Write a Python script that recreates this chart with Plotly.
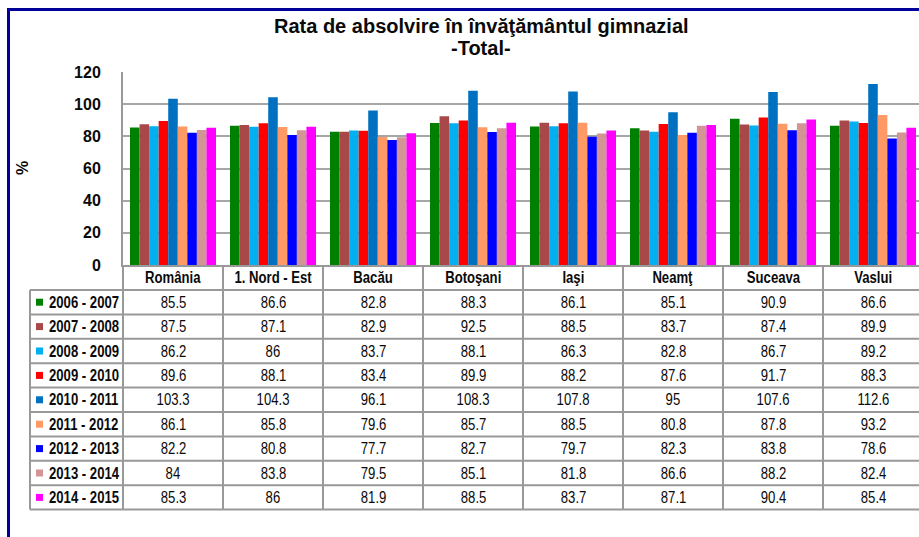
import plotly.graph_objects as go

# Regions (columns of the data table / bar groups)
regions = ["România", "1. Nord - Est", "Bacău", "Botoşani", "Iaşi", "Neamţ", "Suceava", "Vaslui"]

# School years (series)
years = ["2006 - 2007", "2007 - 2008", "2008 - 2009", "2009 - 2010", "2010 - 2011",
         "2011 - 2012", "2012 - 2013", "2013 - 2014", "2014 - 2015"]

# Completion rate (%) per school year, one value per region
v_2006_2007 = [85.5, 86.6, 82.8, 88.3, 86.1, 85.1, 90.9, 86.6]
v_2007_2008 = [87.5, 87.1, 82.9, 92.5, 88.5, 83.7, 87.4, 89.9]
v_2008_2009 = [86.2, 86, 83.7, 88.1, 86.3, 82.8, 86.7, 89.2]
v_2009_2010 = [89.6, 88.1, 83.4, 89.9, 88.2, 87.6, 91.7, 88.3]
v_2010_2011 = [103.3, 104.3, 96.1, 108.3, 107.8, 95, 107.6, 112.6]
v_2011_2012 = [86.1, 85.8, 79.6, 85.7, 88.5, 80.8, 87.8, 93.2]
v_2012_2013 = [82.2, 80.8, 77.7, 82.7, 79.7, 82.3, 83.8, 78.6]
v_2013_2014 = [84, 83.8, 79.5, 85.1, 81.8, 86.6, 88.2, 82.4]
v_2014_2015 = [85.3, 86, 81.9, 88.5, 83.7, 87.1, 90.4, 85.4]

series_values = [v_2006_2007, v_2007_2008, v_2008_2009, v_2009_2010, v_2010_2011,
                 v_2011_2012, v_2012_2013, v_2013_2014, v_2014_2015]

colors = ["#008000", "#A84848", "#00B0F0", "#FF0000", "#0070C0",
          "#FF9966", "#0000FF", "#D39494", "#FF00FF"]

y_ticks = [0, 20, 40, 60, 80, 100, 120]

# Page geometry (pixels)
W, H = 919, 537
PL, PR, PT, PB = 123, 919, 72, 265
COL_W = 100           # width of one region column
ROW_TOP = 290         # first data row of the table
ROW_H = 24.4
TABLE_L = 30
GRID = "#999999"
FONT = "Liberation Sans, Arial, sans-serif"
# Table text uses the same face, horizontally condensed after rendering
NARROW = "Liberation Sans, Arial Narrow, sans-serif"
NARROW_SCALE = 0.82
INK = "#0a0a0a"


def px(x):
    return (x - PL) / (PR - PL)


def py(y):
    return (PB - y) / (PB - PT)


fig = go.Figure()
for name, vals, col in zip(years, series_values, colors):
    fig.add_trace(go.Bar(
        name=name, x=regions, y=vals,
        marker=dict(color=col, line=dict(width=0)),
        showlegend=False, hoverinfo="x+y+name",
    ))

shapes = []
annotations = []

# Outer dark-blue frame (left and top edges)
shapes.append(dict(type="line", xref="paper", yref="paper",
                   x0=px(8.5), x1=px(8.5), y0=py(H + 5), y1=py(9.5),
                   line=dict(color="#000099", width=3)))
shapes.append(dict(type="line", xref="paper", yref="paper",
                   x0=px(7), x1=px(W + 5), y0=py(9.5), y1=py(9.5),
                   line=dict(color="#000099", width=3)))

n_rows = len(years)
table_bottom = ROW_TOP + ROW_H * n_rows

# Horizontal table lines
for k in range(n_rows + 1):
    yy = ROW_TOP + ROW_H * k
    shapes.append(dict(type="line", xref="paper", yref="paper",
                       x0=px(TABLE_L), x1=px(W + 5), y0=py(yy), y1=py(yy),
                       line=dict(color=GRID, width=2)))
# Vertical table lines (column boundaries from the axis down)
for c in range(len(regions) + 1):
    xx = PL + COL_W * c
    shapes.append(dict(type="line", xref="paper", yref="paper",
                       x0=px(xx), x1=px(xx), y0=py(PB), y1=py(table_bottom),
                       line=dict(color=GRID, width=2)))
shapes.append(dict(type="line", xref="paper", yref="paper",
                   x0=px(TABLE_L), x1=px(TABLE_L), y0=py(ROW_TOP), y1=py(table_bottom),
                   line=dict(color=GRID, width=2)))

# Header row: region names
for r in regions:
    annotations.append(dict(x=r, xref="x", y=py((PB + ROW_TOP) / 2), yref="paper",
                            text=r, showarrow=False, xanchor="center", yanchor="middle",
                            font=dict(family=NARROW, size=16, color=INK, weight="bold")))


def fmt(v):
    return f"{v:g}"


# Legend keys, series names and values
for i, (name, vals, col) in enumerate(zip(years, series_values, colors)):
    yc = ROW_TOP + ROW_H * (i + 0.5)
    shapes.append(dict(type="rect", xref="paper", yref="paper",
                       x0=px(36), x1=px(43), y0=py(yc - 3.5), y1=py(yc + 3.5),
                       fillcolor=col, line=dict(width=0)))
    annotations.append(dict(x=px(46.5), xref="paper", y=py(yc), yref="paper",
                            text=name, showarrow=False, xanchor="left", yanchor="middle",
                            align="left",
                            font=dict(family=NARROW, size=16, color=INK, weight="bold")))
    for r, v in zip(regions, vals):
        annotations.append(dict(x=r, xref="x", y=py(yc), yref="paper",
                                text=fmt(v), showarrow=False, xanchor="center", yanchor="middle",
                                font=dict(family=NARROW, size=16, color=INK)))

# Title
annotations.append(dict(x=px(481), xref="paper", y=py(26), yref="paper",
                        text="Rata de absolvire în învăţământul gimnazial", showarrow=False,
                        xanchor="center", yanchor="middle",
                        font=dict(family=FONT, size=20, color=INK, weight="bold")))
annotations.append(dict(x=px(481), xref="paper", y=py(48), yref="paper",
                        text="-Total-", showarrow=False,
                        xanchor="center", yanchor="middle",
                        font=dict(family=FONT, size=20, color=INK, weight="bold")))

# Y-axis title
annotations.append(dict(x=px(22), xref="paper", y=py(168), yref="paper",
                        text="%", textangle=-90, showarrow=False,
                        xanchor="center", yanchor="middle",
                        font=dict(family=FONT, size=16, color=INK, weight="bold")))

fig.update_layout(
    width=W, height=H,
    margin=dict(l=PL, r=W - PR, t=PT, b=H - PB, pad=0),
    paper_bgcolor="white", plot_bgcolor="white",
    barmode="group", bargap=0.14, bargroupgap=0,
    shapes=shapes, annotations=annotations,
    xaxis=dict(type="category", range=[-0.5, -0.5 + (PR - PL) / COL_W],
               showticklabels=False, ticks="", showgrid=False, zeroline=False,
               showline=True, linecolor=GRID, linewidth=2, fixedrange=True),
    yaxis=dict(range=[0, 120], tickvals=y_ticks, ticks="", ticklabelstandoff=17,
               tickfont=dict(family=FONT, size=16, color=INK, weight="bold"),
               showgrid=True, gridcolor="#A6A6A6", gridwidth=2, zeroline=False,
               showline=True, linecolor=GRID, linewidth=2, mirror=False, fixedrange=True),
    font=dict(family=FONT),
)

# Condense the table text (narrow-face look) by fitting each label to a shorter length
condense_js = """
var gd = document.getElementById('{plot_id}');
function condense() {
  gd.querySelectorAll('text.annotation-text').forEach(function (t) {
    var fam = t.style.fontFamily || '';
    if (fam.indexOf('Narrow') === -1 || t.getAttribute('textLength')) return;
    var len = t.getComputedTextLength();
    t.setAttribute('lengthAdjust', 'spacingAndGlyphs');
    t.setAttribute('textLength', (len * %s).toFixed(2));
  });
}
condense();
gd.on('plotly_afterplot', condense);
""" % NARROW_SCALE

fig.write_html("out.html", post_script=condense_js)
